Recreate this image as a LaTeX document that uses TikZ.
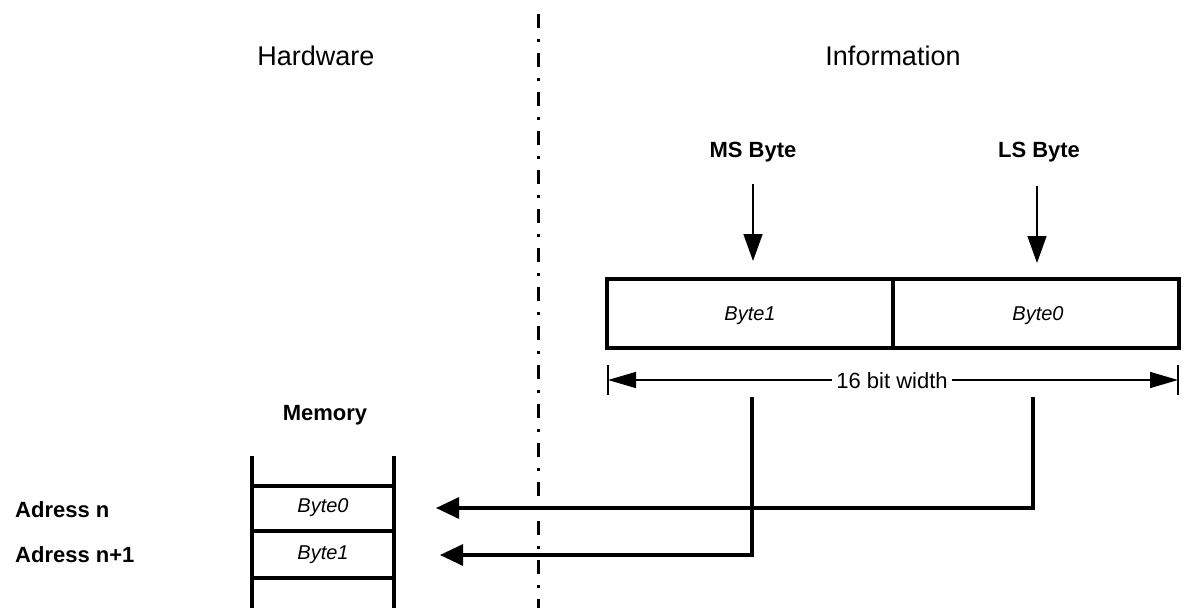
\documentclass[tikz,border=0pt]{standalone}
\usepackage{fontspec}
\setmainfont{Liberation Sans}
\usetikzlibrary{arrows.meta}
\begin{document}
\begin{tikzpicture}[x=1pt,y=-1pt,
  title/.style={font=\fontsize{27}{30}\selectfont, inner sep=0pt},
  blabel/.style={font=\bfseries\fontsize{22}{24}\selectfont, inner sep=0pt},
  itext/.style={font=\itshape\fontsize{20}{22}\selectfont, inner sep=0pt},
  cell/.style={draw, line width=3.3pt, minimum width=286pt, minimum height=69pt, inner sep=0pt},
  thinarrow/.style={line width=1.5pt, -{Triangle[length=27pt,width=19pt]}},
  dimarrow/.style={line width=1.5pt, {Triangle[length=28pt,width=16pt]}-{Triangle[length=28pt,width=16pt]}},
  conn/.style={line width=3.2pt, -{Triangle[length=23pt,width=21pt]}},
  memline/.style={line width=3.1pt},
  sep/.style={line width=3pt, dash pattern=on 14pt off 11pt on 3pt off 11pt}
]
\useasboundingbox (0,0) rectangle (1194,608);
% separator
\coordinate (sepTop) at (538,14);
\coordinate (sepBot) at (538,608);
\draw[sep] (sepTop) -- (sepBot);
% titles
\node[title] (hw) at (316,56) {Hardware};
\node[title] (info) at (893,56) {Information};
% MS / LS labels and arrows
\node[blabel] (ms) at (753,152) {MS Byte};
\node[blabel] (ls) at (1039,152) {LS Byte};
\coordinate (msA) at (753,184);
\coordinate (msB) at (753,261);
\coordinate (lsA) at (1037,186);
\coordinate (lsB) at (1037,263);
\draw[thinarrow] (msA) -- (msB);
\draw[thinarrow] (lsA) -- (lsB);
% byte box
\node[cell] (b1) at (750,313.5) {};
\node[cell] (b0) at (1036,313.5) {};
\node[itext] (b1t) at (750,316) {Byte1};
\node[itext] (b0t) at (1038,316) {Byte0};
% dimension
\coordinate (tlA) at (608,365);
\coordinate (tlB) at (608,395);
\coordinate (trA) at (1178,365);
\coordinate (trB) at (1178,395);
\draw[line width=1.5pt] (tlA) -- (tlB);
\draw[line width=1.5pt] (trA) -- (trB);
\coordinate (dl) at (608,380);
\coordinate (dr) at (1178,380);
\draw[dimarrow] (dl) -- (dr);
\node[fill=white, inner xsep=4pt, inner ysep=2pt, font=\fontsize{22}{24}\selectfont] (dim) at (892,381) {16 bit width};
% memory
\node[blabel] (mem) at (325,415) {Memory};
\coordinate (mL1) at (252,456);
\coordinate (mL2) at (252,608);
\coordinate (mR1) at (394,456);
\coordinate (mR2) at (394,608);
\draw[memline] (mL1) -- (mL2);
\draw[memline] (mR1) -- (mR2);
\coordinate (r1a) at (252,486); \coordinate (r1b) at (394,486);
\coordinate (r2a) at (252,531); \coordinate (r2b) at (394,531);
\coordinate (r3a) at (252,578); \coordinate (r3b) at (394,578);
\draw[memline] (r1a) -- (r1b);
\draw[memline] (r2a) -- (r2b);
\draw[memline] (r3a) -- (r3b);
\node[itext] (m0) at (323,508) {Byte0};
\node[itext] (m1) at (323,555) {Byte1};
\node[blabel, anchor=west] (an) at (15,510) {Adress n};
\node[blabel, anchor=west] (an1) at (15,555) {Adress n+1};
% connectors
\coordinate (lsStart) at (1033,397);
\coordinate (msStart) at (752,397);
\coordinate (tip0) at (436,508);
\coordinate (tip1) at (440,555);
\draw[conn] (lsStart) |- (tip0);
\draw[conn] (msStart) |- (tip1);
\end{tikzpicture}
\end{document}
